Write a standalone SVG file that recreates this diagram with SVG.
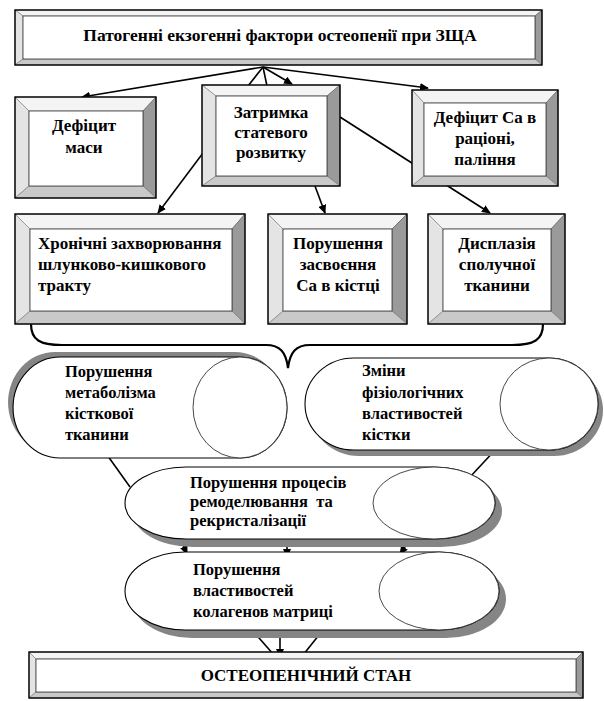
<svg xmlns="http://www.w3.org/2000/svg" width="604" height="701" viewBox="0 0 604 701">
<style>
.bt{fill:#f4f4f4;stroke:#777;stroke-width:0.6}
.bl{fill:#e4e4e4;stroke:#777;stroke-width:0.6}
.br{fill:#9a9a9a;stroke:#555;stroke-width:0.6}
.bb{fill:#c9c9c9;stroke:#777;stroke-width:0.6}
.face{fill:#fff;stroke:#333;stroke-width:0.8}
.out{fill:none;stroke:#000;stroke-width:1.4}
.t{font-family:"Liberation Serif","Times New Roman",serif;font-weight:bold;font-size:17px;fill:#000}
.tk{font-size:16.5px}
.tc{text-anchor:middle}
.cyl{fill:#fff;stroke:#000;stroke-width:1.1}
.end{fill:#fff;stroke:#333;stroke-width:0.9}
.sh{fill:#858585}
.ln{fill:none;stroke:#000;stroke-width:1.6}
.ar{fill:none;stroke:#000;stroke-width:1.6;marker-end:url(#ah)}
.brace{fill:none;stroke:#000;stroke-width:2.2}
</style>
<defs>
<marker id="ah" markerUnits="userSpaceOnUse" markerWidth="9" markerHeight="8" refX="8" refY="4" orient="auto">
<path d="M0,0 L9,4 L0,8 Z" fill="#000"/>
</marker>
</defs>
<rect width="604" height="701" fill="#fff"/>

<g id="connectors">
<path class="ar" d="M263,67 L82,97"/>
<path class="ln" d="M263,67 L248,86"/>
<path class="ln" d="M263,67 L267,86"/>
<path class="ar" d="M263,67 L292,84"/>
<path class="ar" d="M263,67 L428,88"/>
<path class="ar" d="M206,149 L158,213"/>
<path class="ar" d="M315,186 L325,213"/>
<path class="ar" d="M340,117 L490,213"/>
<path class="brace" d="M31,324 C31,340 40,345 62,345 L266,345 C280,345 286,352 288,368 C290,352 296,345 310,345 L512,345 C534,345 543,340 543,324"/>
<path class="ln" d="M105,452 L130,487"/>
<path class="ln" d="M497,448 L470,477"/>
<path class="ar" d="M287,538 L287,557"/>
<path class="ar" d="M180,538 L187,554"/>
<path class="ar" d="M411,538 L400,554"/>
<path class="ln" d="M252,630 L274,655"/>
<path class="ar" d="M280,622 L280,657"/>
<path class="ln" d="M323,630 L303,655"/>
</g>

<g id="n-top">
<polygon class="bt" points="15,10 542,10 535,16 23,16"/>
<polygon class="bl" points="15,10 23,16 23,59 15,65"/>
<polygon class="br" points="542,10 542,65 535,59 535,16"/>
<polygon class="bb" points="15,65 23,59 535,59 542,65"/>
<rect class="face" x="23" y="16" width="512" height="43"/>
<rect class="out" x="15" y="10" width="527" height="55"/>
<text class="t tc" x="280" y="41" style="font-size:17.5px">Патогенні екзогенні фактори остеопенії при ЗЩА</text>
</g>

<g id="n-mass">
<polygon class="bt" points="15,97 156,97 143,111 29,111"/>
<polygon class="bl" points="15,97 29,111 29,186 15,198"/>
<polygon class="br" points="156,97 156,198 143,186 143,111"/>
<polygon class="bb" points="15,198 29,186 143,186 156,198"/>
<rect class="face" x="29" y="111" width="114" height="75"/>
<rect class="out" x="15" y="97" width="141" height="101"/>
<text class="t tc" x="84" y="131">Дефіцит</text>
<text class="t tc" x="84" y="153">маси</text>
</g>

<g id="n-delay">
<polygon class="bt" points="202,85 340,85 327,96 216,96"/>
<polygon class="bl" points="202,85 216,96 216,176 202,186"/>
<polygon class="br" points="340,85 340,186 327,176 327,96"/>
<polygon class="bb" points="202,186 216,176 327,176 340,186"/>
<rect class="face" x="216" y="96" width="111" height="80"/>
<rect class="out" x="202" y="85" width="138" height="101"/>
<text class="t tc" x="271" y="118">Затримка</text>
<text class="t tc" x="271" y="138">статевого</text>
<text class="t tc" x="271" y="158">розвитку</text>
</g>

<g id="n-ca">
<polygon class="bt" points="412,90 558,90 546,103 424,103"/>
<polygon class="bl" points="412,90 424,103 424,176 412,186"/>
<polygon class="br" points="558,90 558,186 546,176 546,103"/>
<polygon class="bb" points="412,186 424,176 546,176 558,186"/>
<rect class="face" x="424" y="103" width="122" height="73"/>
<rect class="out" x="412" y="90" width="146" height="96"/>
<text class="t tc" x="485" y="123">Дефіцит Са в</text>
<text class="t tc" x="485" y="144">раціоні,</text>
<text class="t tc" x="485" y="165">паління</text>
</g>

<g id="n-chronic">
<polygon class="bt" points="15,214 245,214 232,229 30,229"/>
<polygon class="bl" points="15,214 30,229 30,311 15,324"/>
<polygon class="br" points="245,214 245,324 232,311 232,229"/>
<polygon class="bb" points="15,324 30,311 232,311 245,324"/>
<rect class="face" x="30" y="229" width="202" height="82"/>
<rect class="out" x="15" y="214" width="230" height="110"/>
<text class="t" x="38" y="249">Хронічні захворювання</text>
<text class="t" x="38" y="270">шлунково-кишкового</text>
<text class="t" x="38" y="291">тракту</text>
</g>

<g id="n-absorb">
<polygon class="bt" points="268,214 407,214 392,229 283,229"/>
<polygon class="bl" points="268,214 283,229 283,311 268,324"/>
<polygon class="br" points="407,214 407,324 392,311 392,229"/>
<polygon class="bb" points="268,324 283,311 392,311 407,324"/>
<rect class="face" x="283" y="229" width="109" height="82"/>
<rect class="out" x="268" y="214" width="139" height="110"/>
<text class="t tc" x="338" y="249">Порушення</text>
<text class="t tc" x="338" y="270">засвоєння</text>
<text class="t tc" x="338" y="291">Са в кістці</text>
</g>

<g id="n-dysplasia">
<polygon class="bt" points="428,214 565,214 551,229 443,229"/>
<polygon class="bl" points="428,214 443,229 443,311 428,324"/>
<polygon class="br" points="565,214 565,324 551,311 551,229"/>
<polygon class="bb" points="428,324 443,311 551,311 565,324"/>
<rect class="face" x="443" y="229" width="108" height="82"/>
<rect class="out" x="428" y="214" width="137" height="110"/>
<text class="t tc" x="497" y="249">Дисплазія</text>
<text class="t tc" x="497" y="270">сполучної</text>
<text class="t tc" x="497" y="291">тканини</text>
</g>

<g id="n-metab">
<path class="sh" transform="translate(-5,-5)" d="M60,357 H240 A47,50.5 0 0 1 240,458 H60 A47,50.5 0 0 1 60,357 Z"/>
<path class="cyl" d="M60,357 H240 A47,50.5 0 0 1 240,458 H60 A47,50.5 0 0 1 60,357 Z"/>
<ellipse class="end" cx="240" cy="407.5" rx="47" ry="50.5"/>
<text class="t tk" x="65" y="377">Порушення</text>
<text class="t tk" x="65" y="398">метаболізма</text>
<text class="t tk" x="65" y="419">кісткової</text>
<text class="t tk" x="65" y="440">тканини</text>
</g>

<g id="n-phys">
<path class="sh" transform="translate(5,6)" d="M354,358 H549 A49,46 0 0 1 549,450 H354 A49,46 0 0 1 354,358 Z"/>
<path class="cyl" d="M354,358 H549 A49,46 0 0 1 549,450 H354 A49,46 0 0 1 354,358 Z"/>
<ellipse class="end" cx="549" cy="404" rx="49" ry="46"/>
<text class="t tk" x="362" y="376">Зміни</text>
<text class="t tk" x="362" y="398">фізіологічних</text>
<text class="t tk" x="362" y="419">властивостей</text>
<text class="t tk" x="362" y="440">кістки</text>
</g>

<g id="n-remodel">
<path class="sh" transform="translate(7,8)" d="M186,467 H434 A61,36 0 0 1 434,539 H186 A61,36 0 0 1 186,467 Z"/>
<path class="cyl" d="M186,467 H434 A61,36 0 0 1 434,539 H186 A61,36 0 0 1 186,467 Z"/>
<ellipse class="end" cx="434" cy="503" rx="61" ry="36"/>
<text class="t tk" x="190" y="488" xml:space="preserve">Порушення процесів</text>
<text class="t tk" x="190" y="507" xml:space="preserve">ремоделювання  та</text>
<text class="t tk" x="190" y="526">рекристалізації</text>
</g>

<g id="n-collagen">
<path class="sh" transform="translate(7,8)" d="M185,552 H439 A60,39 0 0 1 439,630 H185 A60,39 0 0 1 185,552 Z"/>
<path class="cyl" d="M185,552 H439 A60,39 0 0 1 439,630 H185 A60,39 0 0 1 185,552 Z"/>
<ellipse class="end" cx="439" cy="591" rx="60" ry="39"/>
<text class="t tk" x="193" y="575">Порушення</text>
<text class="t tk" x="193" y="596">властивостей</text>
<text class="t tk" x="193" y="617">колагенов матриці</text>
</g>

<g id="n-result">
<polygon class="bt" points="29,652 583,652 576,659 36,659"/>
<polygon class="bl" points="29,652 36,659 36,692 29,698"/>
<polygon class="br" points="583,652 583,698 576,692 576,659"/>
<polygon class="bb" points="29,698 36,692 576,692 583,698"/>
<rect class="face" x="36" y="659" width="540" height="33"/>
<rect class="out" x="29" y="652" width="554" height="46"/>
<text class="t tc" x="306" y="681">ОСТЕОПЕНІЧНИЙ СТАН</text>
</g>
</svg>
